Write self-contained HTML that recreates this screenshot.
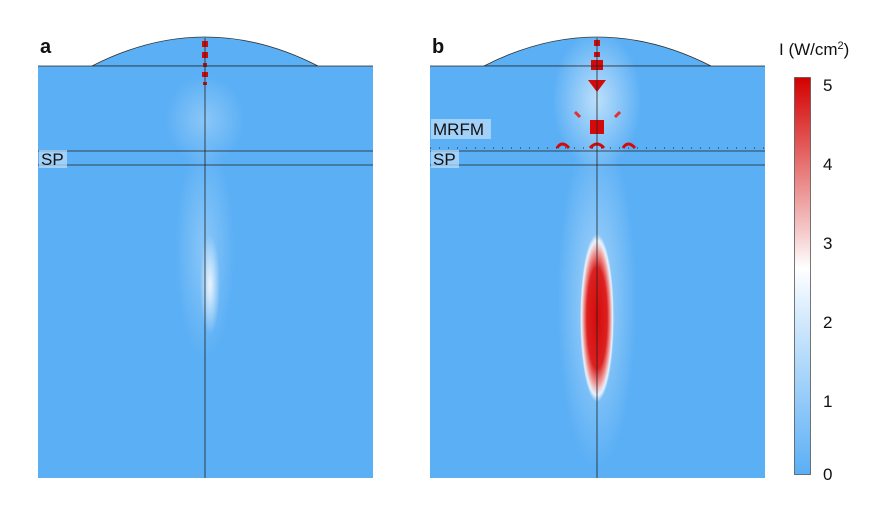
<!DOCTYPE html>
<html><head><style>body{margin:0;background:#fff}svg{display:block}</style></head><body>
<svg width="896" height="508" viewBox="0 0 896 508" xmlns="http://www.w3.org/2000/svg" font-family="Liberation Sans, Arial, sans-serif">
<defs>
<radialGradient id="ea" cx="0.5" cy="0.5" r="0.5">
<stop offset="0" stop-color="#fff" stop-opacity="0.85"/>
<stop offset="1" stop-color="#fff" stop-opacity="0"/>
</radialGradient>
<radialGradient id="eb" cx="0.5" cy="0.5" r="0.5">
<stop offset="0" stop-color="#d40a0a"/>
<stop offset="0.6" stop-color="#dc2020"/>
<stop offset="0.8" stop-color="#f0a0a0"/>
<stop offset="0.92" stop-color="#fff" stop-opacity="0.8"/>
<stop offset="1" stop-color="#fff" stop-opacity="0"/>
</radialGradient>
<radialGradient id="wb" cx="0.5" cy="0.5" r="0.5">
<stop offset="0" stop-color="#fff" stop-opacity="0.6"/>
<stop offset="1" stop-color="#fff" stop-opacity="0"/>
</radialGradient>
<linearGradient id="cb" x1="0" y1="1" x2="0" y2="0">
<stop offset="0" stop-color="#5aaff5"/>
<stop offset="0.4" stop-color="#d6ebfd"/>
<stop offset="0.52" stop-color="#fff"/>
<stop offset="0.6" stop-color="#f6d0d0"/>
<stop offset="1" stop-color="#d40000"/>
</linearGradient>
</defs>
<!-- panel a -->
<path d="M92 66 Q205 8 318 66 Z" fill="#5aaff5" stroke="#333" stroke-width="0.8"/>
<rect x="38" y="66" width="335" height="412" fill="#5aaff5"/>
<ellipse cx="205" cy="120" rx="40" ry="45" fill="url(#wb)" opacity="0.5"/>
<ellipse cx="205" cy="250" rx="30" ry="110" fill="url(#wb)" opacity="0.5"/>
<ellipse cx="210" cy="285" rx="10" ry="50" fill="url(#ea)"/>
<g fill="#d40a0a"><rect x="202" y="41" width="6" height="6"/><rect x="202" y="52" width="6" height="6"/><rect x="203" y="63" width="4" height="4"/><rect x="202" y="72" width="6" height="5"/><rect x="203" y="82" width="4" height="3"/></g>
<line x1="38" y1="66" x2="373" y2="66" stroke="#222" stroke-width="0.8"/>
<line x1="38" y1="151" x2="373" y2="151" stroke="#222" stroke-width="0.8"/>
<line x1="38" y1="165" x2="373" y2="165" stroke="#222" stroke-width="0.8"/>
<line x1="205" y1="38" x2="205" y2="478" stroke="#222" stroke-width="0.8"/>
<rect x="39" y="150" width="28" height="18" fill="#bfe0fb" opacity="0.7"/>
<text x="41" y="165" font-size="17" fill="#111">SP</text>
<text x="40" y="53" font-size="20" font-weight="bold" fill="#111">a</text>
<!-- panel b -->
<path d="M484 66 Q597 8 711 66 Z" fill="#5aaff5" stroke="#333" stroke-width="0.8"/>
<rect x="430" y="66" width="335" height="412" fill="#5aaff5"/>
<ellipse cx="597" cy="100" rx="45" ry="70" fill="url(#wb)"/>
<ellipse cx="597" cy="300" rx="40" ry="170" fill="url(#wb)" opacity="0.8"/>
<ellipse cx="597" cy="318" rx="17" ry="84" fill="url(#eb)"/>
<g fill="#d40a0a"><rect x="594" y="40" width="6" height="6"/><rect x="594" y="52" width="6" height="5"/><rect x="591" y="60" width="12" height="10"/><path d="M588 80 L606 80 L597 92Z"/><rect x="590" y="120" width="14" height="14"/><path d="M575 112 l5 5 M620 112 l-5 5" stroke="#e03030" stroke-width="3"/><path d="M557 148 q5 -8 12 0 M590 148 q7 -8 14 0 M623 148 q5 -8 12 0" stroke="#d40a0a" stroke-width="3" fill="none"/></g>
<line x1="430" y1="66" x2="765" y2="66" stroke="#222" stroke-width="0.8"/>
<line x1="430" y1="148" x2="765" y2="148" stroke="#222" stroke-width="1" stroke-dasharray="1 8"/>
<line x1="430" y1="151" x2="765" y2="151" stroke="#222" stroke-width="0.8"/>
<line x1="430" y1="165" x2="765" y2="165" stroke="#222" stroke-width="0.8"/>
<line x1="597" y1="38" x2="597" y2="478" stroke="#222" stroke-width="0.8"/>
<rect x="431" y="119" width="60" height="20" fill="#bfe0fb" opacity="0.7"/>
<text x="433" y="135" font-size="17" fill="#111">MRFM</text>
<rect x="431" y="150" width="28" height="18" fill="#bfe0fb" opacity="0.7"/>
<text x="433" y="165" font-size="17" fill="#111">SP</text>
<text x="432" y="53" font-size="20" font-weight="bold" fill="#111">b</text>
<!-- colorbar -->
<rect x="794.5" y="77.5" width="16" height="397" fill="url(#cb)" stroke="#555" stroke-width="0.8"/>
<g font-size="17" fill="#111">
<text x="779" y="55">I (W/cm<tspan font-size="11" dy="-6">2</tspan><tspan dy="6">)</tspan></text>
<text x="823" y="91">5</text><text x="823" y="170">4</text><text x="823" y="249">3</text><text x="823" y="328">2</text><text x="823" y="407">1</text><text x="823" y="480">0</text>
</g>
</svg>
</body></html>
